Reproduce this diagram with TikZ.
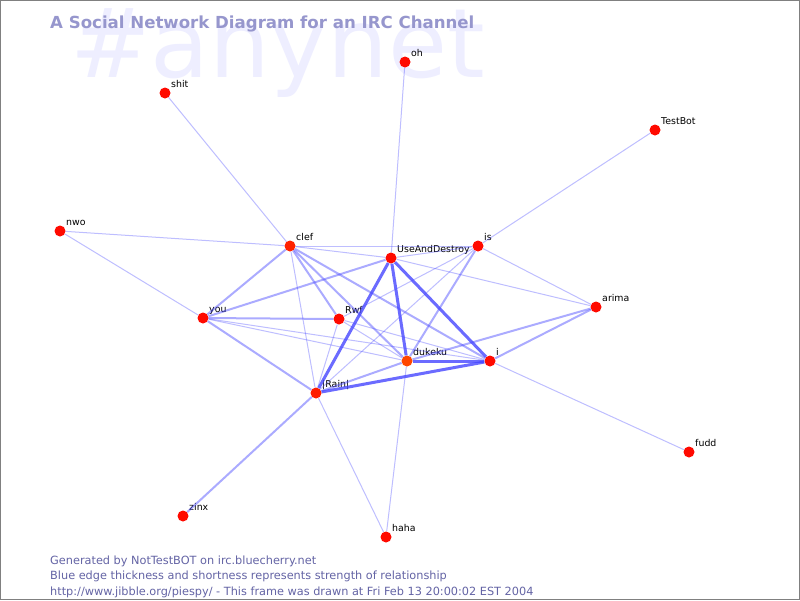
\documentclass[tikz,border=0pt]{standalone}
\usepackage{fontspec}
\setmainfont{DejaVu Sans}
\usetikzlibrary{positioning}
\definecolor{edgeblue}{RGB}{70,70,255}
\definecolor{nodered}{RGB}{255,10,0}
\definecolor{busyred}{RGB}{255,70,0}
\definecolor{bgblue}{RGB}{238,238,255}
\definecolor{titleblue}{RGB}{150,150,205}
\definecolor{footblue}{RGB}{100,100,165}
\tikzset{
  user/.style={circle, fill=nodered, minimum size=11pt, inner sep=0pt},
  busy/.style={user, fill=busyred},
  nick/.style={anchor=base west, inner sep=0pt, xshift=2pt, yshift=1pt, text=black, font=\fontsize{9.4}{9.4}\selectfont},
  foot/.style={anchor=base west, inner sep=0pt, text=footblue, font=\fontsize{11.3}{11.3}\selectfont},
  weak/.style={draw=edgeblue, draw opacity=0.35, line width=1pt},
  mid/.style={draw=edgeblue, draw opacity=0.45, line width=2pt},
  strong/.style={draw=edgeblue, draw opacity=0.8, line width=3pt}
}
\begin{document}
\begin{tikzpicture}[x=1pt, y=-1pt]
\useasboundingbox (0,0) rectangle (800,600);
\fill[white] (0,0) rectangle (800,600);
%\draw[help lines] (0,0) grid[step=50] (800,600);
\node[anchor=base west, inner sep=0pt, text=bgblue, font=\fontsize{96}{96}\selectfont](Channel) at (70,77){\#anynet};
\node[anchor=base west, inner sep=0pt, text=titleblue, font=\bfseries\fontsize{16.6}{16.6}\selectfont](Title) at (50,28){A Social Network Diagram for an IRC Channel};

\node[user, label={[nick]45:oh}](oh) at (405,62){};
\node[user, label={[nick]45:shit}](shit) at (165,93){};
\node[user, label={[nick]45:TestBot}](TestBot) at (655,130){};
\node[user, label={[nick]45:nwo}](nwo) at (60,231){};
\node[busy, fill=nodered!60!busyred, label={[nick]45:clef}](clef) at (290,246){};
\node[user, label={[nick]45:UseAndDestroy}](Use) at (391,258){};
\node[user, label={[nick]45:is}](is) at (478,246){};
\node[user, label={[nick]45:arima}](arima) at (596,307){};
\node[user, label={[nick]45:you}](you) at (203,318){};
\node[user, label={[nick]45:Rwf}](Rwf) at (339,319){};
\node[busy, label={[nick]45:dukeku}](dukeku) at (407,361){};
\node[user, label={[nick]45:i}](i) at (490,361){};
\node[user, fill=nodered!70!busyred, label={[nick]45:|Rain|}](Rain) at (316,393){};
\node[user, label={[nick]45:fudd}](fudd) at (689,452){};
\node[user, label={[nick]45:zinx}](zinx) at (183,516){};
\node[user, label={[nick]45:haha}](haha) at (386,537){};

% weak links
\foreach \a/\b in {shit/clef, oh/Use, TestBot/is, nwo/clef, nwo/you, fudd/i, haha/Rain, haha/dukeku, clef/is, clef/Use, clef/Rain, Use/arima, Use/is, you/dukeku, you/i, Rwf/Rain, Rwf/dukeku, Rwf/i, Rwf/is, is/Rain, is/arima}
  \draw[weak] (\a) -- (\b);
% medium links
\foreach \a/\b in {you/clef, you/Rwf, you/Rain, you/Use, zinx/Rain, clef/Rwf, clef/dukeku, clef/i, Rain/dukeku, is/dukeku, dukeku/arima, i/arima}
  \draw[mid] (\a) -- (\b);
% strong links
\foreach \a/\b in {Use/dukeku, Use/i, Use/Rain, dukeku/i, Rain/i}
  \draw[strong] (\a) -- (\b);

\node[foot](Gen) at (50,564){Generated by NotTestBOT on irc.bluecherry.net};
\node[below=15.5pt of Gen.base west, foot](Legend){Blue edge thickness and shortness represents strength of relationship};
\node[below=15.5pt of Legend.base west, foot](Url){http://www.jibble.org/piespy/ - This frame was drawn at Fri Feb 13 20:00:02 EST 2004};

\draw[gray] (0.5,0.5) rectangle (799.5,599.5);
\end{tikzpicture}
\end{document}
